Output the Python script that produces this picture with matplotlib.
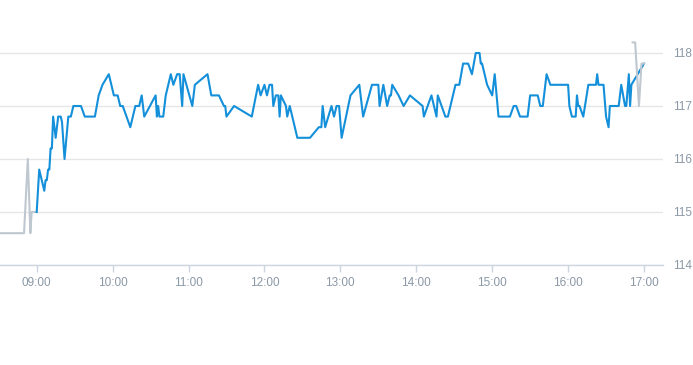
import matplotlib
matplotlib.use("Agg")
import matplotlib.pyplot as plt
import matplotlib.dates as mdates
import pandas as pd

# ---- data ----
day = "2024-01-02 "

# regular session (blue)
session_times = [
    "09:00", "09:02", "09:04", "09:06", "09:07", "09:08", "09:09", "09:10", "09:11", "09:12",
    "09:13", "09:15", "09:17", "09:19", "09:20", "09:22", "09:25", "09:27", "09:29", "09:35",
    "09:38", "09:46", "09:49", "09:52", "09:57", "10:01", "10:04", "10:06", "10:08", "10:14",
    "10:18", "10:21", "10:23", "10:25", "10:34", "10:35", "10:36", "10:37", "10:40", "10:42",
    "10:44", "10:46", "10:48", "10:51", "10:53", "10:55", "10:56", "11:03", "11:05", "11:15",
    "11:18", "11:24", "11:28", "11:29", "11:30", "11:36", "11:50", "11:55", "11:57", "12:00",
    "12:02", "12:04", "12:06", "12:07", "12:09", "12:11", "12:12", "12:13", "12:17", "12:18",
    "12:20", "12:26", "12:36", "12:43", "12:45", "12:46", "12:48", "12:53", "12:55", "12:57",
    "12:59", "13:01", "13:08", "13:15", "13:18", "13:25", "13:30", "13:31", "13:34", "13:37",
    "13:39", "13:40", "13:41", "13:46", "13:50", "13:55", "14:05", "14:06", "14:12", "14:16",
    "14:17", "14:23", "14:25", "14:29", "14:31", "14:34", "14:37", "14:41", "14:44", "14:47",
    "14:50", "14:51", "14:52", "14:56", "15:00", "15:02", "15:05", "15:14", "15:17", "15:19",
    "15:22", "15:28", "15:30", "15:36", "15:38", "15:40", "15:41", "15:43", "15:46", "16:00",
    "16:01", "16:03", "16:06", "16:07", "16:08", "16:09", "16:12", "16:16", "16:22", "16:23",
    "16:24", "16:28", "16:30", "16:32", "16:33", "16:40", "16:42", "16:45", "16:46", "16:48",
    "16:49", "16:50", "16:55", "17:00",
]
session_prices = [
    115.0, 115.8, 115.6, 115.4, 115.6, 115.6, 115.8, 115.8, 116.2, 116.2,
    116.8, 116.4, 116.8, 116.8, 116.7, 116.0, 116.8, 116.8, 117.0, 117.0,
    116.8, 116.8, 117.2, 117.4, 117.6, 117.2, 117.2, 117.0, 117.0, 116.6,
    117.0, 117.0, 117.2, 116.8, 117.2, 116.8, 117.0, 116.8, 116.8, 117.2,
    117.4, 117.6, 117.4, 117.6, 117.6, 117.0, 117.6, 117.0, 117.4, 117.6,
    117.2, 117.2, 117.0, 117.0, 116.8, 117.0, 116.8, 117.4, 117.2, 117.4,
    117.2, 117.4, 117.4, 117.0, 117.2, 117.2, 116.8, 117.2, 117.0, 116.8,
    117.0, 116.4, 116.4, 116.6, 116.6, 117.0, 116.6, 117.0, 116.8, 117.0,
    117.0, 116.4, 117.2, 117.4, 116.8, 117.4, 117.4, 117.0, 117.4, 117.0,
    117.2, 117.2, 117.4, 117.2, 117.0, 117.2, 117.0, 116.8, 117.2, 116.8,
    117.2, 116.8, 116.8, 117.2, 117.4, 117.4, 117.8, 117.8, 117.6, 118.0,
    118.0, 117.8, 117.8, 117.4, 117.2, 117.6, 116.8, 116.8, 117.0, 117.0,
    116.8, 116.8, 117.2, 117.2, 117.0, 117.0, 117.2, 117.6, 117.4, 117.4,
    117.0, 116.8, 116.8, 117.2, 117.0, 117.0, 116.8, 117.4, 117.4, 117.6,
    117.4, 117.4, 116.8, 116.6, 117.0, 117.0, 117.4, 117.0, 117.0, 117.6,
    117.0, 117.4, 117.6, 117.8,
]

# pre-market (grey)
pre_times = ["08:25", "08:50", "08:53", "08:55", "08:56", "09:00"]
pre_prices = [114.6, 114.6, 116.0, 114.6, 115.0, 115.0]

# after-hours (grey)
post_times = ["16:51", "16:53", "16:56", "16:58", "17:00"]
post_prices = [118.2, 118.2, 117.0, 117.8, 117.8]

hour_ticks = ["09:00", "10:00", "11:00", "12:00", "13:00", "14:00", "15:00", "16:00", "17:00"]
price_ticks = [114, 115, 116, 117, 118]


def to_dt(times):
    return pd.to_datetime([day + t for t in times])


# ---- figure ----
fig = plt.figure(figsize=(6.93, 3.65), dpi=100)
ax = fig.add_axes([0.0, 0.274, 0.9567, 0.726])

grey = "#bfc8d0"
blue = "#1490db"
label_col = "#8b98a6"

ax.plot(to_dt(pre_times), pre_prices, color=grey, lw=1.5, zorder=2)
ax.plot(to_dt(session_times), session_prices, color=blue, lw=1.5, zorder=3)
ax.plot(to_dt(post_times), post_prices, color=grey, lw=1.5, zorder=4)

ax.set_xlim(pd.Timestamp(day + "08:31"), pd.Timestamp(day + "17:15"))
ax.set_ylim(114, 119)

ax.set_xticks(to_dt(hour_ticks))
ax.xaxis.set_major_formatter(mdates.DateFormatter("%H:%M"))
ax.set_yticks(price_ticks)
ax.yaxis.tick_right()

ax.grid(axis="y", color="#e6e6e6", lw=1)
ax.set_axisbelow(True)
for side in ["top", "left", "right"]:
    ax.spines[side].set_visible(False)
ax.spines["bottom"].set_color("#ccd6e0")
ax.spines["bottom"].set_linewidth(1)

ax.tick_params(axis="x", length=5, width=1, color="#ccd6e0", pad=4,
               labelsize=8.5, labelcolor=label_col)
ax.tick_params(axis="y", length=0, pad=7, labelsize=8.5, labelcolor=label_col)
for lab in ax.get_xticklabels() + ax.get_yticklabels():
    lab.set_fontfamily("Liberation Sans")

fig.savefig("out.png", dpi=100)
